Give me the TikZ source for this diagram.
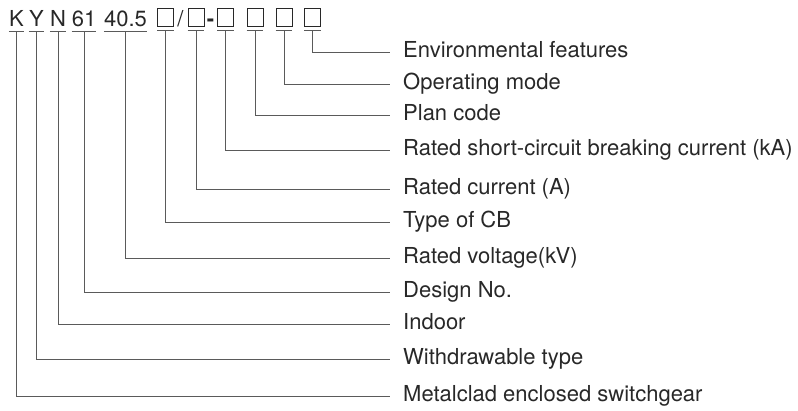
\documentclass[tikz,border=0pt]{standalone}
\usepackage{fontspec}
\setmainfont{TeX Gyre Heros}
\usepackage{tikz}
\usetikzlibrary{positioning,calc}
\definecolor{linegray}{RGB}{90,90,90}
\definecolor{textgray}{RGB}{40,40,40}

\begin{document}
\begin{tikzpicture}[x=1bp, y=-1bp,
    every node/.style={font=\fontsize{22bp}{24bp}\selectfont, text=textgray},
    code/.style={inner sep=0pt, anchor=south, text depth=0pt},
    slot/.style={draw=textgray, line width=0.9bp, minimum width=16bp, minimum height=17.5bp, inner sep=0pt, anchor=south},
    desc/.style={anchor=west, inner xsep=13bp, inner ysep=0pt, text height=15.8bp, text depth=4bp},
    lead/.style={draw=linegray, line width=0.8bp}]
    \useasboundingbox (0,0) rectangle (798,410);
    % type designation
    \node[code] (k) at (16.5,27) {K};
    \node[code] (y) at (36.5,27) {Y};
    \node[code] (n) at (58,27) {N};
    \node[code] (d) at (84,27) {61};
    \node[code] (v) at (125.5,27) {40.5};
    \node[slot] (s1) at (165.5,26.7) {};
    \node[code] (sl) at (180.5,27) {/};
    \node[slot] (s2) at (196,26.7) {};
    \node[code] (hy) at (210.5,27) {\textbf{-}};
    \node[slot] (s3) at (225.5,26.7) {};
    \node[slot] (s4) at (255,26.7) {};
    \node[slot] (s5) at (284,26.7) {};
    \node[slot] (s6) at (312.5,26.7) {};
    % meanings
    \node[desc] (env) at (390,52) {Environmental features};
    \node[desc] (mode) at (390,84) {Operating mode};
    \node[desc] (plan) at (390,115) {Plan code};
    \node[desc] (brk) at (390,150) {Rated short-circuit breaking current (kA)};
    \node[desc] (cur) at (390,189) {Rated current (A)};
    \node[desc] (cb) at (390,222) {Type of CB};
    \node[desc] (volt) at (390,258) {Rated voltage(kV)};
    \node[desc] (dsn) at (390,292) {Design No.};
    \node[desc] (ind) at (390,324) {Indoor};
    \node[desc] (wdr) at (390,359) {Withdrawable type};
    \node[desc] (met) at (390,396) {Metalclad enclosed switchgear};
    % underlines and leaders
    \foreach \t/\l in {s6/env, s5/mode, s4/plan, s3/brk, s2/cur, s1/cb, v/volt, d/dsn, n/ind, y/wdr, k/met} {
      \draw[lead] ([yshift=-4bp]\t.south west) -- ([yshift=-4bp]\t.south east);
      \draw[lead] ([yshift=-4bp]\t.south) |- (\l.west);
    }
\end{tikzpicture}
\end{document}
